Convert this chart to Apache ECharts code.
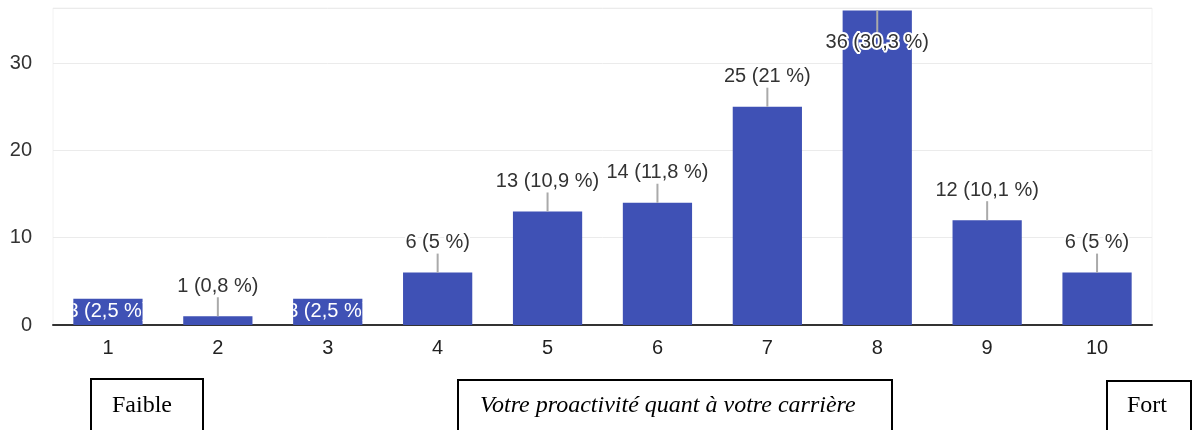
<!DOCTYPE html>
<html>
<head>
<meta charset="utf-8">
<script src="https://cdn.jsdelivr.net/npm/echarts@6/dist/echarts.min.js"></script>
<style>
  html, body { margin: 0; padding: 0; background: #fff; overflow: hidden; }
  #chart { width: 1195px; height: 430px; }
</style>
</head>
<body>
<div id="chart"></div>
<script>
// données
const categories = ["1", "2", "3", "4", "5", "6", "7", "8", "9", "10"];
const counts = [3, 1, 3, 6, 13, 14, 25, 36, 12, 6];
const percents = [2.5, 0.8, 2.5, 5, 10.9, 11.8, 21, 30.3, 10.1, 5];
const yMax = 36.3;
const yStep = 10;
const scaleLabels = ["Faible", "Votre proactivité quant à votre carrière", "Fort"];

const SANS = 'Arial, "Liberation Sans", sans-serif';
const SERIF = '"Times New Roman", "Liberation Serif", serif';
const BAR_RATIO = 0.63;
// barres dont l'étiquette est écrite dans la barre (rognée)
const insideIdx = [0, 2];

const fmt = (i) => counts[i] + " (" + String(percents[i]).replace(".", ",") + " %)";

const chart = echarts.init(document.getElementById("chart"));

chart.setOption({
  animation: false,
  grid: {
    left: 53, right: 43, top: 8, bottom: 105,
    show: true, borderColor: "#f2f2f2", borderWidth: 1
  },
  xAxis: {
    type: "category",
    data: categories,
    axisLine: { lineStyle: { color: "#333", width: 2 } },
    axisTick: { show: false },
    axisLabel: { color: "#222", fontSize: 20, fontFamily: SANS, margin: 13 }
  },
  yAxis: {
    type: "value",
    min: 0,
    max: yMax,
    interval: yStep,
    axisLine: { show: false },
    axisTick: { show: false },
    axisLabel: { color: "#333", fontSize: 20, fontFamily: SANS, margin: 21, showMaxLabel: false },
    splitLine: { lineStyle: { color: "#ebebeb", width: 1 } }
  },
  series: [
    {
      type: "bar",
      data: counts,
      barWidth: BAR_RATIO * 100 + "%",
      itemStyle: { color: "#3f51b5" },
      emphasis: { disabled: true },
      silent: true
    },
    {
      type: "custom",
      clip: false,
      silent: true,
      z: 5,
      data: counts.map((c, i) => [i, c]),
      renderItem: (params, api) => {
        const i = api.value(0);
        const v = api.value(1);
        const top = api.coord([i, v]);
        const base = api.coord([i, 0]);
        const bw = api.size([1, 0])[0] * BAR_RATIO;
        const text = fmt(i);
        if (insideIdx.includes(i)) {
          return {
            type: "text",
            style: {
              text: text, x: top[0], y: (top[1] + base[1]) / 2,
              align: "center", verticalAlign: "middle",
              fill: "#fff", fontSize: 20, fontFamily: SANS
            },
            clipPath: {
              type: "rect",
              shape: { x: top[0] - bw / 2, y: top[1], width: bw, height: base[1] - top[1] }
            }
          };
        }
        const gridTop = params.coordSys.y;
        let y2, ty;
        if (top[1] - 42 < gridTop) {
          y2 = top[1] + 22; ty = top[1] + 32;
        } else {
          y2 = top[1] - 19; ty = top[1] - 30;
        }
        return {
          type: "group",
          children: [
            {
              type: "line",
              shape: { x1: top[0], y1: top[1], x2: top[0], y2: y2 },
              style: { stroke: "#aaa", lineWidth: 2 }
            },
            {
              type: "text",
              style: {
                text: text, x: top[0], y: ty,
                align: "center", verticalAlign: "middle",
                fill: "#333", fontSize: 20, fontFamily: SANS,
                stroke: "#fff", lineWidth: 4
              }
            }
          ]
        };
      }
    }
  ],
  graphic: [
    { type: "rect", x: 91, y: 379, shape: { width: 112, height: 70 },
      style: { fill: "#fff", stroke: "#000", lineWidth: 2 } },
    { type: "text", x: 112, y: 406,
      style: { text: scaleLabels[0], font: "24px " + SERIF, fill: "#000", verticalAlign: "middle" } },
    { type: "rect", x: 458, y: 380, shape: { width: 434, height: 70 },
      style: { fill: "#fff", stroke: "#000", lineWidth: 2 } },
    { type: "text", x: 480, y: 406,
      style: { text: scaleLabels[1], font: "italic 24px " + SERIF, fill: "#000", verticalAlign: "middle" } },
    { type: "rect", x: 1107, y: 381, shape: { width: 84, height: 70 },
      style: { fill: "#fff", stroke: "#000", lineWidth: 2 } },
    { type: "text", x: 1127, y: 406,
      style: { text: scaleLabels[2], font: "24px " + SERIF, fill: "#000", verticalAlign: "middle" } }
  ]
});
</script>
</body>
</html>
